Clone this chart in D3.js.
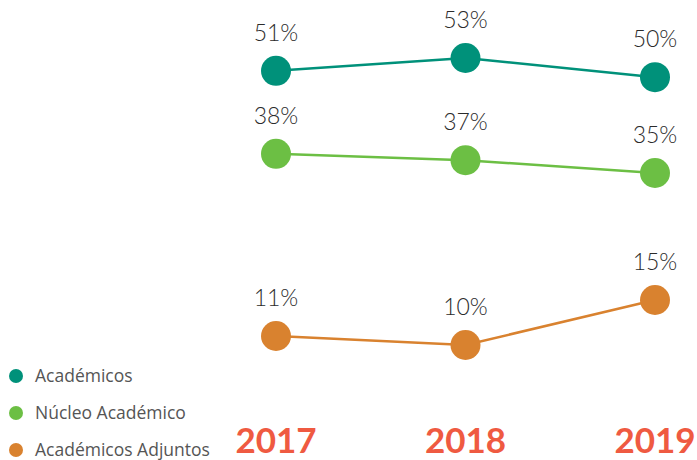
<!DOCTYPE html>
<html>
<head>
<meta charset="utf-8">
<script src="https://d3js.org/d3.v7.min.js"></script>
<style>
  body { margin: 0; background: #fff; }
  svg { display: block; }
</style>
</head>
<body>
<svg id="chart" width="697" height="460"></svg>
<script>
var years = ["2017", "2018", "2019"];
var seriesNames = ["Académicos", "Núcleo Académico", "Académicos Adjuntos"];
var academicos = [51, 53, 50];
var nucleo = [38, 37, 35];
var adjuntos = [11, 10, 15];
var colors = ["#00917a", "#6cbf44", "#d9822f"];

var series = [academicos, nucleo, adjuntos];

var svg = d3.select("#chart");

var x = d3.scalePoint()
  .domain(years)
  .range([276, 655]);

// the original spacing is not uniform, so a piecewise scale follows it
var y = d3.scaleLinear()
  .domain([10, 15, 35, 53])
  .range([345, 300, 173, 58]);

var line = d3.line()
  .x(function(d, i) { return x(years[i]); })
  .y(function(d) { return y(d); });

series.forEach(function(vals, s) {
  var g = svg.append("g");
  g.append("path")
    .datum(vals)
    .attr("fill", "none")
    .attr("stroke", colors[s])
    .attr("stroke-width", 2.5)
    .attr("d", line);
  g.selectAll("circle")
    .data(vals).enter()
    .append("circle")
    .attr("cx", function(d, i) { return x(years[i]); })
    .attr("cy", function(d) { return y(d); })
    .attr("r", 15)
    .attr("fill", colors[s]);
  g.selectAll("text")
    .data(vals).enter()
    .append("text")
    .attr("x", function(d, i) { return x(years[i]); })
    .attr("y", function(d) { return y(d) - 30; })
    .attr("text-anchor", "middle")
    .attr("font-family", "Lato, 'Open Sans', sans-serif")
    .attr("font-weight", 300)
    .attr("font-size", 23)
    .attr("fill", "#2b2b2b")
    .text(function(d) { return d + "%"; });
});

// year labels
svg.selectAll(".year")
  .data(years).enter()
  .append("text")
  .attr("class", "year")
  .attr("x", function(d) { return x(d); })
  .attr("y", 453)
  .attr("text-anchor", "middle")
  .attr("font-family", "Lato, 'Open Sans', sans-serif")
  .attr("font-weight", 700)
  .attr("font-size", 35)
  .attr("fill", "#ef5a41")
  .text(function(d) { return d; });

// legend
var legend = svg.selectAll(".leg")
  .data(seriesNames).enter()
  .append("g")
  .attr("class", "leg")
  .attr("transform", function(d, i) { return "translate(16," + (376 + i * 37) + ")"; });
legend.append("circle")
  .attr("r", 7)
  .attr("fill", function(d, i) { return colors[i]; });
legend.append("text")
  .attr("x", 19)
  .attr("dy", "0.35em")
  .attr("font-family", "'Open Sans', sans-serif")
  .attr("font-size", 17.5)
  .attr("fill", "#555")
  .text(function(d) { return d; });
</script>
</body>
</html>
